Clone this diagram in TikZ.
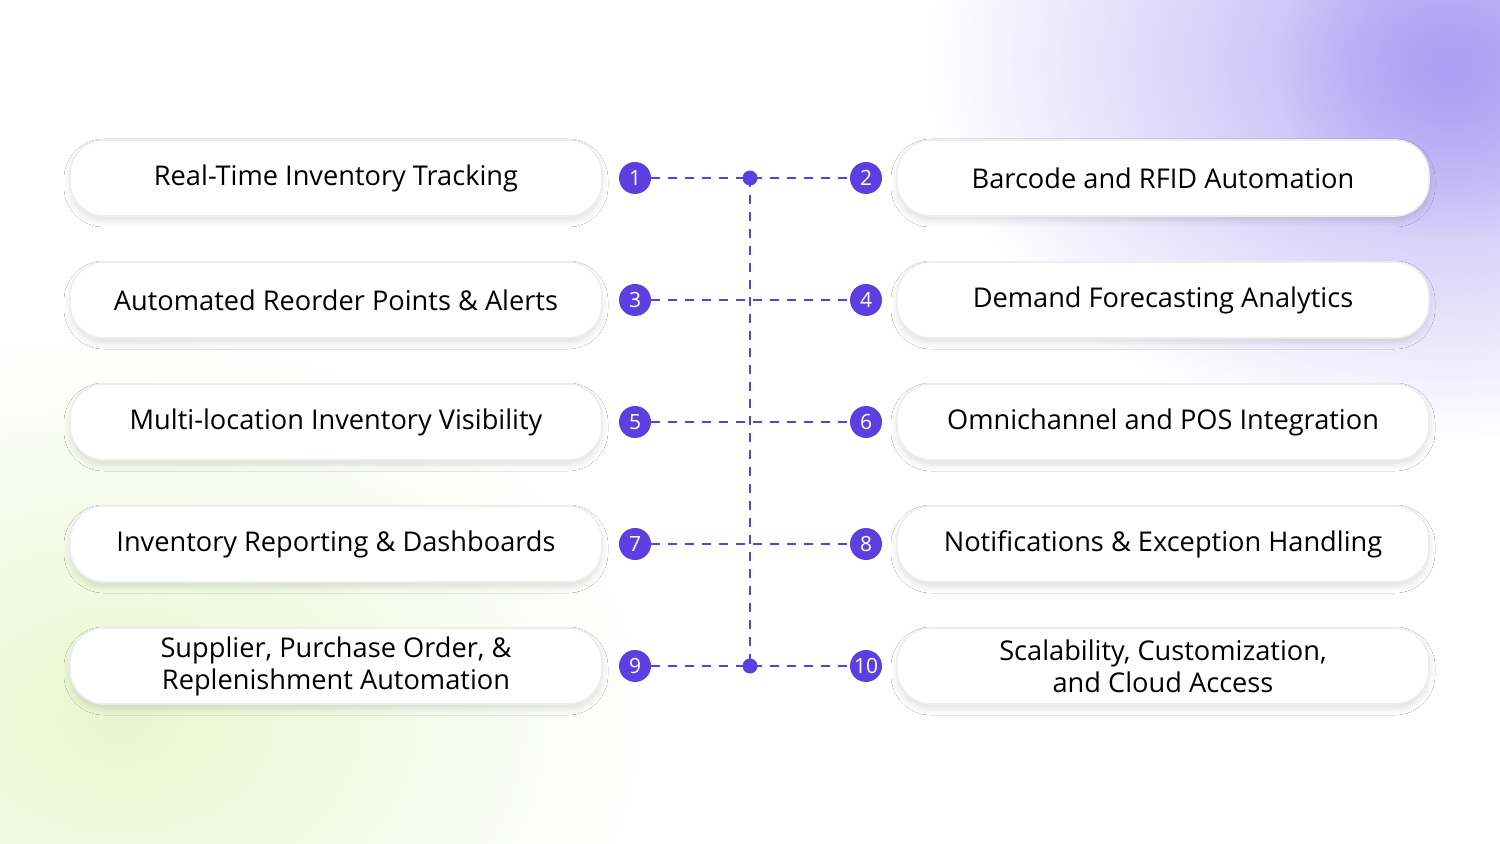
\documentclass[tikz,border=0pt]{standalone}
\usepackage{fontspec}
\setmainfont{Open Sans}
\usetikzlibrary{fadings,shadows.blur}
\tikzfading[name=glowfade,inner color=transparent!0,outer color=transparent!100]
\definecolor{pur}{HTML}{5B3FE0}
\definecolor{glowp}{HTML}{A495F2}
\definecolor{glowg}{HTML}{EAF6CF}
\begin{document}
\begin{tikzpicture}[x=0.5pt,y=-0.5pt,
  feat/.style={draw=black!7,line width=0.8pt,fill=white,rounded corners=17pt,minimum width=266pt,minimum height=38pt,align=center,font=\fontsize{13.6}{16}\selectfont,blur shadow={shadow xshift=0pt,shadow yshift=-2.5pt,shadow blur radius=3pt,shadow opacity=12,shadow blur steps=6}},
  num/.style={circle,fill=pur,text=white,inner sep=0pt,minimum size=16pt,font=\fontsize{10.5}{10.5}\selectfont},
  dot/.style={circle,fill=pur,inner sep=0pt,minimum size=7.5pt},
  link/.style={pur,line width=1.4pt,dash pattern=on 4.5pt off 4pt}]
\fill[white] (0,0) rectangle (1500,844);
\useasboundingbox (0,0) rectangle (1500,844);
\begin{scope}
\clip (0,0) rectangle (1500,844);
\fill[glowp,path fading=glowfade,opacity=0.8] (1450,60) ellipse (520 and 380);
\fill[glowp,path fading=glowfade,opacity=0.6] (1450,70) circle (170);
\fill[glowg,path fading=glowfade] (120,720) ellipse (520 and 380);
\end{scope}
\foreach \i/\y/\l/\r in {1/178/{Real-Time Inventory Tracking}/{Barcode and RFID Automation},
  3/300/{Automated Reorder Points \& Alerts}/{Demand Forecasting Analytics},
  5/422/{Multi-location Inventory Visibility}/{Omnichannel and POS Integration},
  7/544/{Inventory Reporting \& Dashboards}/{Notifications \& Exception Handling},
  9/666/{Supplier, Purchase Order, \&\\Replenishment Automation}/{Scalability, Customization,\\and Cloud Access}}{
  \pgfmathtruncatemacro{\j}{\i+1}
  \node[feat] (L\i) at (336,\y) {\l};
  \node[feat] (R\i) at (1163,\y) {\r};
  \node[num] (n\i) at (635,\y) {\i};
  \node[num] (n\j) at (866,\y) {\j};
  \coordinate (m\i) at (750,\y);
  \draw[link] (n\i) -- (m\i) -- (n\j);
}
\draw[link] (m1) -- (m9);
\node[dot] (d1) at (m1) {};
\node[dot] (d9) at (m9) {};
\end{tikzpicture}
\end{document}
